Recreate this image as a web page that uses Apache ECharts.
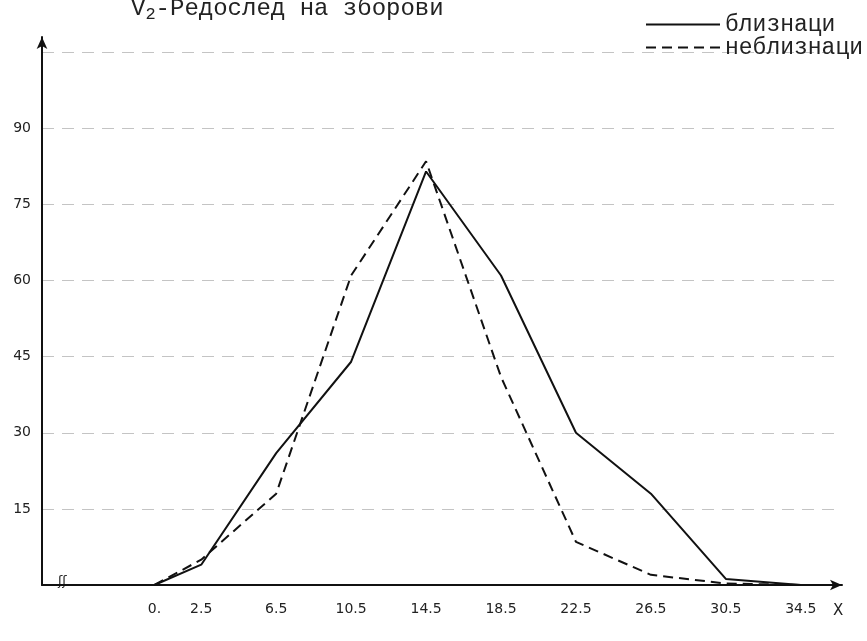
<!DOCTYPE html>
<html>
<head>
<meta charset="utf-8">
<script src="https://cdn.jsdelivr.net/npm/echarts@6/dist/echarts.min.js"></script>
<style>
    html, body { margin: 0; padding: 0; background: #fff; }
    #chart { width: 867px; height: 641px; }
</style>
</head>
<body>
<div id="chart"></div>
<script>
// x позиции (интервали)
const xValues = [0, 2.5, 6.5, 10.5, 14.5, 18.5, 22.5, 26.5, 30.5, 34.5];
const xLabels = ['0.', '2.5', '6.5', '10.5', '14.5', '18.5', '22.5', '26.5', '30.5', '34.5'];
const yTicks = [15, 30, 45, 60, 75, 90];

// близнаци (полна линија)
const twins = [0, 4, 26, 44, 81.5, 61, 30, 18, 1.2, 0];
// неблизнаци (испрекината линија)
const nonTwins = [0, 5, 18, 61, 83.5, 41, 8.5, 2, 0.3, 0];

const MONO = '"Liberation Mono", "DejaVu Sans Mono", monospace';

function pairs(ys) {
    return xValues.map((x, i) => [x, ys[i]]);
}

const chart = echarts.init(document.getElementById('chart'));

const option = {
    backgroundColor: '#fff',
    animation: false,
    title: {
        text: '{v|V}{s|2}{v|-Редослед на зборови}',
        left: 126,
        top: -11,
        textStyle: {
            fontWeight: 'normal',
            rich: {
                v: { fontFamily: MONO, fontSize: 24, color: '#222', fontWeight: 'normal' },
                s: { fontFamily: MONO, fontSize: 17, color: '#222', fontWeight: 'normal', verticalAlign: 'bottom', padding: [12, 0, 0, 0] }
            }
        }
    },
    legend: {
        orient: 'vertical',
        left: 640,
        top: 8,
        itemWidth: 74,
        itemHeight: 14,
        itemGap: 0,
        itemStyle: { opacity: 0 },
        lineStyle: { width: 2 },
        formatter: '{m|{name}}',
        textStyle: {
            fontFamily: MONO,
            fontSize: 23,
            color: '#222',
            rich: { m: { fontFamily: MONO, fontSize: 23, color: '#222' } }
        },
        data: ['близнаци', 'неблизнаци']
    },
    grid: { left: 42, right: 25, top: 37, bottom: 56 },
    xAxis: {
        type: 'value',
        min: -6,
        max: 36.7,
        axisLine: {
            show: true,
            symbol: ['none', 'arrow'],
            symbolSize: [8, 12],
            lineStyle: { color: '#111', width: 2 }
        },
        axisTick: { show: false },
        splitLine: { show: false },
        axisLabel: {
            customValues: xValues,
            formatter: v => xLabels[xValues.indexOf(v)] || '',
            margin: 17,
            color: '#222',
            fontFamily: '"DejaVu Sans", sans-serif',
            fontSize: 14
        }
    },
    yAxis: {
        type: 'value',
        min: 0,
        max: 108,
        interval: 15,
        axisLine: {
            show: true,
            onZero: false,
            symbol: ['none', 'arrow'],
            symbolSize: [8, 12],
            lineStyle: { color: '#111', width: 2 }
        },
        axisTick: { show: false },
        splitLine: {
            show: true,
            showMinLine: false,
            showMaxLine: false,
            lineStyle: { color: '#c4c4c4', type: [12, 8], width: 1 }
        },
        axisLabel: {
            formatter: v => yTicks.includes(v) ? String(v) : '',
            margin: 11,
            color: '#222',
            fontFamily: '"DejaVu Sans", sans-serif',
            fontSize: 14
        }
    },
    graphic: [
        {
            type: 'text',
            left: 833,
            top: 604,
            style: { text: 'X', fontFamily: '"DejaVu Sans", sans-serif', fontSize: 15, fill: '#222' }
        },
        {
            type: 'text',
            left: 58,
            top: 575,
            style: { text: 'ʃʃ', fontFamily: '"DejaVu Sans", sans-serif', fontSize: 13, fill: '#222' }
        }
    ],
    series: [
        {
            name: 'близнаци',
            type: 'line',
            data: pairs(twins),
            symbol: 'none',
            lineStyle: { color: '#111', width: 2, type: 'solid' },
            itemStyle: { color: '#111' }
        },
        {
            name: 'неблизнаци',
            type: 'line',
            data: pairs(nonTwins),
            symbol: 'none',
            lineStyle: { color: '#111', width: 2, type: [10, 6] },
            itemStyle: { color: '#111' }
        }
    ]
};

chart.setOption(option);
</script>
</body>
</html>
